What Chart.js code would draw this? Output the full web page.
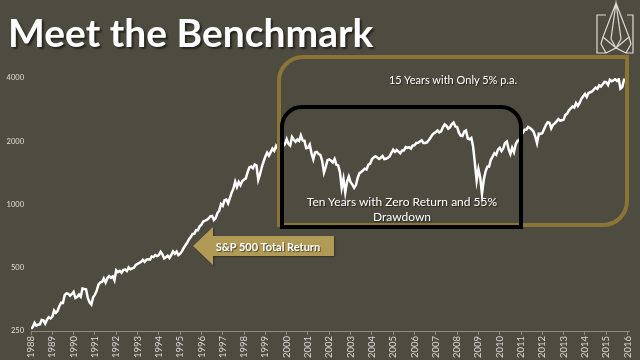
<!DOCTYPE html>
<html>
<head>
<meta charset="utf-8">
<script src="https://cdn.jsdelivr.net/npm/chart.js@4.4.0/dist/chart.umd.min.js"></script>
<style>
  html, body { margin: 0; padding: 0; background: #4e4c40; }
  #wrap { position: relative; width: 640px; height: 360px; overflow: hidden; }
  #wrap canvas { position: absolute; left: 0; top: 0; }
  .txt { position: absolute; color: #fff; font-family: Lato, "Open Sans", sans-serif; white-space: nowrap;
         transform: translate(-50%, -50%); text-shadow: 1px 1px 1px rgba(0,0,0,0.55); text-align: center; }
  #title { position: absolute; left: 8px; top: 8px; margin: 0; color: #fff; font: 700 39px Lato, sans-serif;
           line-height: 48px; text-shadow: 2px 2px 2px rgba(0,0,0,0.55); white-space: nowrap; }
</style>
</head>
<body>
<div id="wrap">
  <canvas id="chart" width="640" height="360"></canvas>
  <h1 id="title"></h1>
  <div class="txt" id="goldNote" style="left:453px; top:79px; font-size:11px;"></div>
  <div class="txt" id="blackNote" style="left:402px; top:209px; font-size:12px; line-height:15px;"></div>
  <div class="txt" id="arrowNote" style="left:268px; top:246px; font-size:11px; font-weight:bold;"></div>
</div>
<script>
// S&P 500 total return, value at the start of 1988 then each month end
const startYear = 1988;
const values = [
  256,
  261, 273, 265, 268, 269, 282, 281, 271, 283, 291, 287, 292,
  313, 305, 312, 329, 341, 340, 371, 378, 376, 368, 375, 384,
  359, 363, 373, 364, 398, 396, 395, 359, 342, 334, 362, 372,
  389, 416, 426, 428, 445, 425, 446, 456, 448, 455, 436, 486,
  477, 483, 473, 488, 490, 482, 502, 492, 497, 500, 516, 522,
  527, 534, 545, 533, 546, 548, 546, 566, 562, 574, 568, 575,
  595, 579, 554, 561, 570, 556, 575, 598, 583, 597, 574, 583,
  598, 621, 640, 659, 684, 700, 724, 725, 756, 754, 787, 802,
  830, 837, 845, 858, 879, 883, 844, 862, 910, 935, 1006, 986,
  1048, 1056, 1013, 1073, 1138, 1189, 1284, 1212, 1279, 1236, 1294, 1316,
  1331, 1426, 1500, 1515, 1488, 1549, 1533, 1311, 1394, 1508, 1599, 1691,
  1763, 1707, 1776, 1845, 1801, 1901, 1842, 1832, 1781, 1895, 1933, 2047,
  1944, 1907, 2094, 2032, 1989, 2039, 2007, 2131, 2019, 2012, 1852, 1862,
  1928, 1752, 1641, 1769, 1780, 1738, 1721, 1612, 1420, 1510, 1625, 1640,
  1616, 1585, 1645, 1547, 1535, 1425, 1200, 1323, 1140, 1283, 1358, 1278,
  1244, 1200, 1237, 1339, 1410, 1428, 1453, 1481, 1466, 1548, 1562, 1643,
  1674, 1697, 1672, 1646, 1669, 1701, 1645, 1651, 1669, 1695, 1763, 1823,
  1779, 1816, 1784, 1751, 1806, 1808, 1876, 1858, 1874, 1844, 1911, 1912,
  1964, 1968, 1993, 2021, 1961, 1964, 1977, 2023, 2076, 2144, 2183, 2214,
  2249, 2203, 2229, 2329, 2408, 2369, 2297, 2330, 2418, 2457, 2353, 2336,
  2198, 2125, 2117, 2222, 2250, 2061, 2045, 2073, 1889, 1572, 1300, 1471,
  1348, 1120, 1308, 1434, 1513, 1516, 1632, 1691, 1755, 1723, 1826, 1862,
  1796, 1851, 1963, 1995, 1835, 1739, 1862, 1776, 1935, 2010, 2008, 2143,
  2195, 2270, 2271, 2340, 2312, 2274, 2229, 2106, 1959, 2173, 2166, 2188,
  2288, 2385, 2465, 2451, 2302, 2397, 2432, 2485, 2550, 2504, 2516, 2539,
  2671, 2706, 2808, 2864, 2929, 2890, 3038, 2948, 3041, 3182, 3277, 3360,
  3246, 3392, 3422, 3449, 3527, 3601, 3553, 3693, 3642, 3733, 3831, 3821,
  3709, 3920, 3858, 3898, 3946, 3869, 3953, 3560, 3620, 3927, 3936, 3780
];
const yearTicks = [1988, 1989, 1990, 1991, 1992, 1993, 1994, 1995, 1996, 1997, 1998, 1999, 2000, 2001,
  2002, 2003, 2004, 2005, 2006, 2007, 2008, 2009, 2010, 2011, 2012, 2013, 2014, 2015, 2016];
const valueTicks = [250, 500, 1000, 2000, 4000];

const titleText = 'Meet the Benchmark';
const goldNote = '15 Years with Only 5% p.a.';
const blackNote = ['Ten Years with Zero Return and 55%', 'Drawdown'];
const arrowNote = 'S&P 500 Total Return';

document.getElementById('title').textContent = titleText;
document.getElementById('goldNote').textContent = goldNote;
document.getElementById('blackNote').innerHTML = blackNote.join('<br>');
document.getElementById('arrowNote').textContent = arrowNote;

const points = values.map((v, i) => ({ x: startYear + i / 12, y: v }));

// rounded boxes, arrow and logo drawn on top of the line
const decorations = {
  id: 'decorations',
  afterDatasetsDraw(chart) {
    const ctx = chart.ctx;
    ctx.save();

    // gold box: rounded top-left and bottom-right
    ctx.strokeStyle = '#8b7536';
    ctx.lineWidth = 4;
    ctx.beginPath();
    ctx.moveTo(279, 225);
    ctx.lineTo(279, 81);
    ctx.arcTo(279, 57, 303, 57, 24);
    ctx.lineTo(627, 57);
    ctx.lineTo(627, 201);
    ctx.arcTo(627, 225, 603, 225, 24);
    ctx.closePath();
    ctx.stroke();

    // black box: rounded top corners
    ctx.strokeStyle = '#000';
    ctx.lineWidth = 4;
    ctx.beginPath();
    ctx.moveTo(282, 227);
    ctx.lineTo(282, 127);
    ctx.arcTo(282, 107, 302, 107, 20);
    ctx.lineTo(501, 107);
    ctx.arcTo(521, 107, 521, 127, 20);
    ctx.lineTo(521, 227);
    ctx.closePath();
    ctx.stroke();

    // arrow
    ctx.shadowColor = 'rgba(0,0,0,0.35)';
    ctx.shadowOffsetX = 1;
    ctx.shadowOffsetY = 1;
    ctx.shadowBlur = 2;
    ctx.fillStyle = '#b19a56';
    ctx.beginPath();
    ctx.moveTo(193, 246);
    ctx.lineTo(213, 227);
    ctx.lineTo(213, 236);
    ctx.lineTo(334, 236);
    ctx.lineTo(334, 256);
    ctx.lineTo(213, 256);
    ctx.lineTo(213, 265);
    ctx.closePath();
    ctx.fill();
    ctx.shadowColor = 'transparent';

    // logo
    ctx.strokeStyle = '#dcdcd4';
    ctx.lineWidth = 1.2;
    ctx.beginPath();
    ctx.moveTo(606, 15); ctx.lineTo(597, 15); ctx.lineTo(597, 53); ctx.lineTo(606, 53);
    ctx.lineTo(601, 44); ctx.lineTo(603, 37);
    ctx.moveTo(627, 15); ctx.lineTo(633, 15); ctx.lineTo(633, 53); ctx.lineTo(626, 53);
    ctx.lineTo(631, 44); ctx.lineTo(629, 37);
    ctx.moveTo(616, 3); ctx.lineTo(603, 37); ctx.lineTo(616, 48); ctx.lineTo(629, 37); ctx.closePath();
    ctx.moveTo(616, 3); ctx.lineTo(611, 39); ctx.lineTo(616, 48); ctx.lineTo(621, 39); ctx.closePath();
    ctx.moveTo(606, 53); ctx.lineTo(616, 48); ctx.lineTo(626, 53);
    ctx.stroke();

    ctx.restore();
  }
};

const ctx = document.getElementById('chart').getContext('2d');
new Chart(ctx, {
  type: 'line',
  data: {
    datasets: [{
      data: points,
      borderColor: '#ffffff',
      borderWidth: 2.5,
      pointRadius: 0,
      tension: 0,
      fill: false
    }]
  },
  options: {
    responsive: false,
    animation: false,
    layout: { padding: { top: 78, right: 9, bottom: 0, left: 0 } },
    plugins: {
      legend: { display: false },
      tooltip: { enabled: false }
    },
    scales: {
      x: {
        type: 'linear',
        min: 1988,
        max: 2016.1,
        afterBuildTicks: (scale) => { scale.ticks = yearTicks.map(v => ({ value: v })); },
        afterFit: (scale) => { scale.height = 29; },
        grid: { drawOnChartArea: false, drawTicks: true, tickLength: 4, color: '#8d8b80' },
        border: { color: '#8d8b80', width: 1 },
        ticks: {
          color: '#d8d8d0',
          font: { family: 'Lato', size: 9.5 },
          minRotation: 90,
          maxRotation: 90,
          autoSkip: false,
          padding: 1,
          callback: (v) => String(v)
        }
      },
      y: {
        type: 'logarithmic',
        min: 250,
        max: 4000,
        afterBuildTicks: (scale) => { scale.ticks = valueTicks.map(v => ({ value: v })); },
        afterFit: (scale) => { scale.width = 31; },
        grid: { display: false, drawTicks: false },
        border: { display: false },
        ticks: {
          color: '#e0e0d8',
          font: { family: 'Lato', size: 7.5 },
          padding: 7,
          callback: (v) => String(v)
        }
      }
    }
  },
  plugins: [decorations]
});
</script>
</body>
</html>
